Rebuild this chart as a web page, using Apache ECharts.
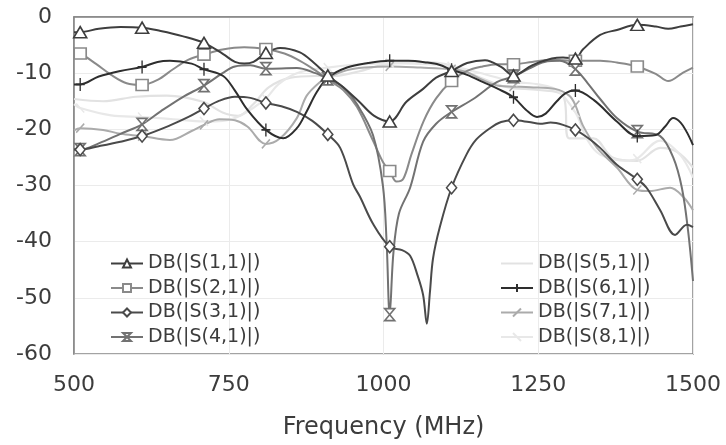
<!DOCTYPE html>
<html>
<head>
<meta charset="utf-8">
<script src="https://cdn.jsdelivr.net/npm/echarts@6.0.0/dist/echarts.min.js"></script>
<style>
  html, body { margin: 0; padding: 0; background: #fff; }
  #chart { width: 726px; height: 445px; }
</style>
</head>
<body>
<div id="chart"></div>
<script>
// frequencies (MHz) where the curves carry a marker
var markFreqs = [510, 610, 710, 810, 910, 1010, 1110, 1210, 1310, 1410];

var s1Freq = [500, 510, 540, 575, 610, 640, 675, 710, 741, 760, 775, 790, 810, 833, 865, 887, 910, 935, 960, 985, 1010, 1037, 1064, 1085, 1110, 1135, 1164, 1190, 1210, 1240, 1272, 1290, 1310, 1322, 1350, 1377, 1410, 1440, 1460, 1480, 1500];
var s1Db = [-2.7, -2.7, -2.1, -1.8, -1.9, -2.5, -3.4, -4.6, -6.6, -8.0, -8.3, -8.0, -6.4, -5.5, -6.3, -8.1, -10.4, -12.5, -15.0, -17.6, -18.6, -15.1, -12.8, -10.8, -9.6, -8.2, -7.7, -8.9, -10.4, -8.6, -7.4, -7.2, -7.4, -5.8, -3.2, -2.3, -1.4, -1.7, -2.1, -1.7, -1.3];

var s2Freq = [500, 510, 535, 560, 585, 610, 635, 660, 685, 710, 740, 775, 810, 840, 865, 890, 914, 935, 957, 983, 1000, 1010, 1021, 1032, 1045, 1065, 1085, 1110, 1135, 1160, 1185, 1210, 1240, 1270, 1310, 1350, 1377, 1410, 1441, 1460, 1484, 1500];
var s2Db = [-6.3, -6.5, -8.3, -10.3, -11.8, -12.1, -11.2, -9.3, -7.6, -6.7, -5.8, -5.4, -5.7, -6.5, -7.8, -9.5, -11.4, -13.0, -16.0, -22.0, -26.0, -27.4, -29.3, -28.8, -24.5, -18.5, -14.5, -11.4, -9.6, -8.8, -8.4, -8.4, -8.0, -7.6, -7.8, -7.8, -8.1, -8.8, -10.2, -11.4, -9.9, -9.0];

var s3Freq = [500, 510, 540, 575, 610, 655, 685, 710, 735, 760, 785, 810, 835, 860, 885, 910, 930, 951, 962, 983, 1010, 1030, 1043, 1055, 1064, 1070, 1075, 1080, 1091, 1110, 1134, 1150, 1172, 1190, 1210, 1235, 1253, 1270, 1290, 1310, 1330, 1350, 1377, 1410, 1425, 1447, 1471, 1490, 1500];
var s3Db = [-23.6, -23.6, -23.0, -22.2, -21.2, -19.3, -17.8, -16.3, -14.9, -14.2, -14.4, -15.3, -15.9, -16.9, -18.5, -20.9, -23.3, -29.8, -32.0, -36.8, -40.9, -41.5, -42.5, -46.0, -49.5, -54.6, -49.0, -43.0, -37.4, -30.4, -24.5, -21.8, -19.8, -18.7, -18.4, -18.7, -19.0, -18.8, -19.2, -20.1, -21.5, -23.3, -26.3, -28.9, -30.4, -34.4, -38.8, -37.0, -37.4];

var s4Freq = [500, 510, 540, 575, 610, 640, 675, 710, 740, 760, 785, 810, 860, 890, 910, 935, 957, 983, 999, 1005, 1010, 1016, 1025, 1043, 1064, 1085, 1110, 1145, 1183, 1210, 1235, 1260, 1285, 1310, 1330, 1350, 1377, 1410, 1447, 1468, 1482, 1492, 1500];
var s4Db = [-23.6, -23.6, -22.5, -20.8, -19.1, -16.8, -14.3, -12.2, -10.0, -8.8, -8.6, -9.2, -9.1, -10.0, -11.0, -12.5, -15.5, -21.0, -30.0, -40.0, -53.0, -42.0, -35.0, -30.4, -22.2, -19.0, -16.9, -14.6, -11.6, -10.6, -9.2, -8.0, -7.8, -9.3, -11.8, -14.6, -18.0, -20.4, -21.2, -25.0, -30.4, -38.0, -47.0];

var s5Freq = [500, 547, 600, 650, 708, 740, 765, 790, 815, 850, 890, 920, 960, 1000, 1050, 1100, 1150, 1200, 1250, 1290, 1300, 1339, 1370, 1410, 1447, 1474, 1500];
var s5Db = [-14.6, -15.0, -14.2, -14.0, -15.1, -17.0, -17.6, -15.5, -12.5, -10.8, -10.5, -10.5, -9.7, -8.5, -8.0, -8.4, -10.5, -12.5, -13.0, -14.0, -21.6, -21.6, -25.0, -25.6, -23.3, -24.0, -26.8];

var s6Freq = [500, 510, 540, 575, 610, 635, 655, 690, 710, 741, 760, 780, 810, 838, 860, 875, 892, 910, 941, 975, 1010, 1040, 1070, 1090, 1110, 1135, 1161, 1185, 1210, 1230, 1248, 1262, 1280, 1295, 1310, 1340, 1377, 1410, 1440, 1455, 1468, 1480, 1490, 1500];
var s6Db = [-12.0, -12.0, -10.6, -9.6, -8.9, -8.0, -7.8, -8.3, -9.3, -10.5, -13.1, -16.5, -20.1, -21.6, -19.8, -17.0, -13.4, -10.8, -9.0, -8.2, -7.8, -7.8, -8.1, -8.5, -9.4, -10.3, -11.6, -12.8, -14.3, -16.5, -17.8, -17.2, -15.0, -13.5, -13.1, -14.8, -18.6, -21.2, -21.0, -19.5, -18.0, -18.8, -20.5, -22.8];

var s7Freq = [500, 510, 547, 575, 610, 655, 690, 710, 735, 760, 780, 810, 833, 860, 876, 897, 910, 940, 970, 1010, 1060, 1110, 1134, 1160, 1188, 1210, 1237, 1277, 1300, 1310, 1322, 1345, 1377, 1410, 1430, 1463, 1484, 1500];
var s7Db = [-20.2, -19.8, -20.1, -20.8, -21.2, -21.9, -20.3, -19.2, -18.2, -18.4, -19.5, -22.6, -21.6, -18.0, -14.0, -11.6, -10.8, -9.5, -9.0, -8.8, -9.0, -9.3, -9.8, -11.2, -12.3, -12.4, -12.5, -12.8, -14.0, -15.7, -19.3, -23.3, -26.8, -30.8, -31.0, -30.4, -32.0, -34.4];

var s8Freq = [500, 510, 560, 610, 660, 710, 740, 770, 810, 830, 860, 910, 950, 1010, 1050, 1110, 1150, 1210, 1250, 1280, 1310, 1330, 1350, 1393, 1410, 1447, 1479, 1500];
var s8Db = [-15.5, -16.2, -17.5, -17.8, -18.2, -18.6, -18.5, -17.5, -14.5, -12.0, -10.0, -9.0, -8.5, -8.2, -8.3, -8.8, -9.8, -11.5, -12.0, -13.0, -17.0, -22.0, -24.5, -25.6, -25.2, -22.0, -24.5, -28.6];

var seriesNames = ['DB(|S(1,1)|)', 'DB(|S(2,1)|)', 'DB(|S(3,1)|)', 'DB(|S(4,1)|)',
                   'DB(|S(5,1)|)', 'DB(|S(6,1)|)', 'DB(|S(7,1)|)', 'DB(|S(8,1)|)'];

var xTicks = [500, 750, 1000, 1250, 1500];
var yTicks = [0, -10, -20, -30, -40, -50, -60];

// only the marker frequencies get a symbol
function buildData(freqs, vals) {
  return freqs.map(function (f, i) {
    if (markFreqs.indexOf(f) >= 0) return [f, vals[i]];
    return { value: [f, vals[i]], symbol: 'none' };
  });
}

function makeSeries(name, freqs, vals, color, symbol, size, width) {
  return {
    name: name,
    type: 'line',
    data: buildData(freqs, vals),
    smooth: 0.35,
    symbol: symbol,
    symbolSize: size,
    showSymbol: true,
    lineStyle: { color: color, width: width || 2 },
    itemStyle: { color: '#fff', borderColor: color, borderWidth: 1.6 },
    emphasis: { disabled: true },
    z: 2
  };
}

function makeLegend(id, names, left) {
  return {
    id: id,
    data: names,
    orient: 'vertical',
    left: left, top: 249,
    itemWidth: 32, itemHeight: 10, itemGap: 5.5,
    textStyle: { fontSize: 19, color: '#3c3c3c', fontFamily: 'DejaVu Sans' }
  };
}

var chart = echarts.init(document.getElementById('chart'));

// S(5,1) has no marker, so its symbol is made invisible (legend too)
var s5 = makeSeries(seriesNames[4], s5Freq, s5Db, '#e2e2e2', 'circle', 8, 2.2);
s5.showSymbol = false;
s5.itemStyle = { color: 'rgba(0,0,0,0)', borderColor: 'rgba(0,0,0,0)', borderWidth: 0 };

chart.setOption({
  animation: false,
  textStyle: { fontFamily: 'DejaVu Sans' },
  grid: {
    left: 74, right: 33, top: 17, bottom: 86,
    show: true, borderColor: '#858585', borderWidth: 1.5
  },
  legend: [
    makeLegend('legLeft', seriesNames.slice(0, 4), 105),
    makeLegend('legRight', seriesNames.slice(4), 495)
  ],
  xAxis: {
    type: 'value',
    min: 500, max: 1500, interval: 250,
    name: 'Frequency (MHz)',
    nameLocation: 'middle',
    nameGap: 62,
    nameTextStyle: { fontSize: 24, color: '#3c3c3c' },
    axisLine: { lineStyle: { color: '#858585', width: 1.5 } },
    axisTick: { show: false },
    axisLabel: {
      fontSize: 22, color: '#3c3c3c', margin: 20,
      formatter: function (v) { return xTicks.indexOf(v) >= 0 ? String(v) : ''; }
    },
    splitLine: { lineStyle: { color: '#ebebeb', width: 1 } }
  },
  yAxis: {
    type: 'value',
    min: -60, max: 0, interval: 10,
    axisLine: { show: true, lineStyle: { color: '#858585', width: 1.5 } },
    axisTick: { show: false },
    axisLabel: {
      fontSize: 22, color: '#3c3c3c', margin: 22,
      formatter: function (v) { return yTicks.indexOf(v) >= 0 ? String(v) : ''; }
    },
    splitLine: { lineStyle: { color: '#ebebeb', width: 1 } }
  },
  series: [
    s5,
    makeSeries(seriesNames[7], s8Freq, s8Db, '#e8e8e8', 'path://M0,0L10,10', [8, 9], 2.2),
    makeSeries(seriesNames[6], s7Freq, s7Db, '#ababab', 'path://M0,10L10,0', [8, 9], 2),
    makeSeries(seriesNames[1], s2Freq, s2Db, '#8a8a8a', 'rect', [12, 11], 2),
    makeSeries(seriesNames[3], s4Freq, s4Db, '#727272', 'path://M0,0L10,0L0,12L10,12Z', [10, 12], 2),
    makeSeries(seriesNames[2], s3Freq, s3Db, '#4a4a4a', 'diamond', [10, 12], 2),
    makeSeries(seriesNames[5], s6Freq, s6Db, '#2e2e2e', 'path://M5,0L5,12M0,6L10,6', [9, 13], 2),
    makeSeries(seriesNames[0], s1Freq, s1Db, '#3e3e3e', 'triangle', [13, 11], 2)
  ]
});
</script>
</body>
</html>
